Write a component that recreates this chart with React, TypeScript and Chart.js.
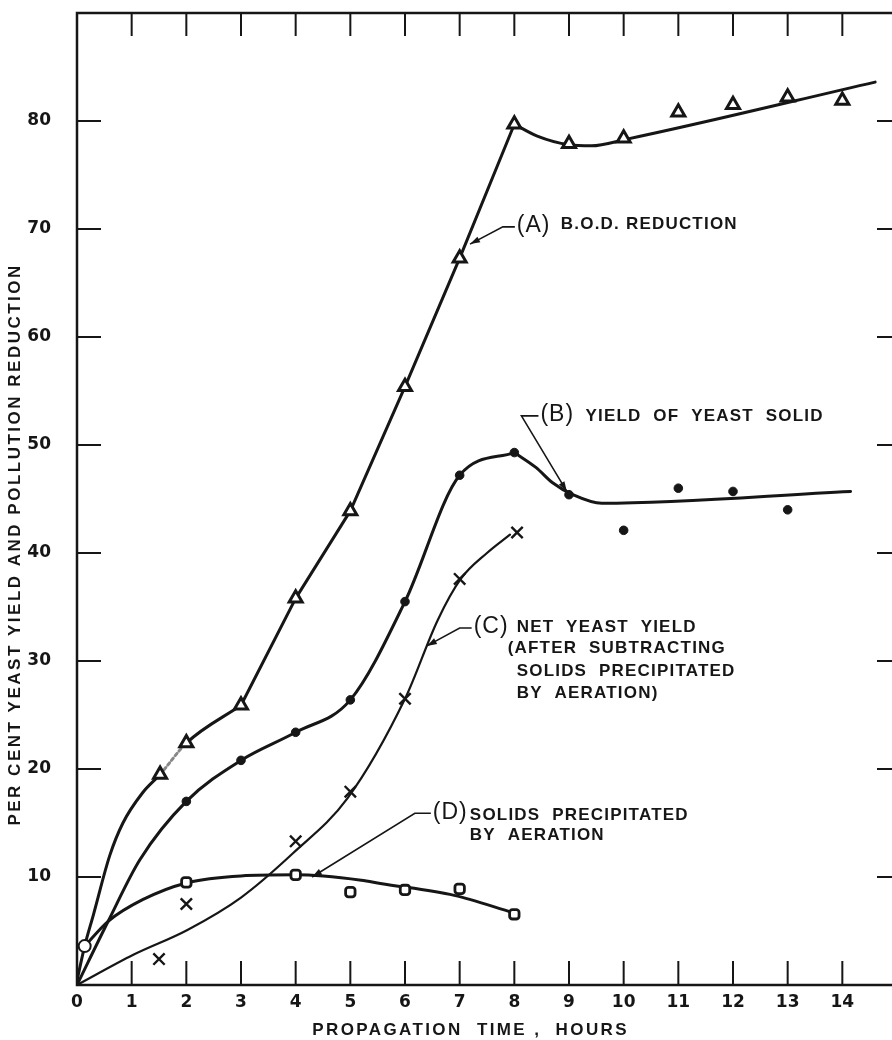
import React, { useEffect, useRef } from "react";
import { Chart, registerables } from "chart.js";

Chart.register(...registerables);

// ---------- axes ----------
const hourTicks = [0, 1, 2, 3, 4, 5, 6, 7, 8, 9, 10, 11, 12, 13, 14];
const percentTicks = [10, 20, 30, 40, 50, 60, 70, 80];
const xAxisTitle = "PROPAGATION  TIME ,  HOURS";
const yAxisTitle = "PER CENT YEAST YIELD AND POLLUTION REDUCTION";

// ---------- (A) B.O.D. reduction : triangles ----------
const bodHours = [1.52, 2, 3, 4, 5, 6, 7, 8, 9, 10, 11, 12, 13, 14];
const bodValues = [19.5, 22.4, 25.9, 35.8, 43.9, 55.4, 67.3, 79.7, 77.9, 78.4, 80.8, 81.5, 82.2, 81.9];
// faired curve of (A)
const bodCurveRiseHours = [0, 0.14, 0.3, 0.6, 0.84, 1.2, 1.52, 2, 3];
const bodCurveRiseValues = [0.4, 3.6, 6.5, 12.0, 15.0, 17.8, 19.5, 22.4, 25.9];
const bodCurveLinearHours = [3, 4, 5, 6, 7, 8];
const bodCurveLinearValues = [25.9, 35.8, 43.9, 55.4, 67.3, 79.7];
const bodCurveTailHours = [8, 8.42, 9.0, 9.41, 10.04, 14.6];
const bodCurveTailValues = [79.7, 78.6, 77.8, 77.7, 78.3, 83.6];

// ---------- (B) yield of yeast solid : dots ----------
const yieldHours = [2, 3, 4, 5, 6, 7, 8, 9, 10, 11, 12, 13];
const yieldValues = [17.0, 20.8, 23.4, 26.4, 35.5, 47.2, 49.3, 45.4, 42.1, 46.0, 45.7, 44.0];
const yieldCurveRiseHours = [0, 0.57, 1.15, 2, 3, 4, 5, 6, 7, 8];
const yieldCurveRiseValues = [0, 5.9, 11.6, 17.0, 20.8, 23.4, 26.4, 35.5, 47.2, 49.3];
const yieldCurveTailHours = [8, 8.4, 8.7, 9.07, 9.6, 14.15];
const yieldCurveTailValues = [49.3, 47.9, 46.5, 45.4, 44.6, 45.7];

// ---------- (C) net yeast yield : crosses ----------
const netHours = [1.5, 2, 4, 5, 6, 7, 8.05];
const netValues = [2.4, 7.5, 13.3, 17.9, 26.5, 37.6, 41.9];
const netCurveHours = [0, 1.03, 2.02, 3.0, 3.95, 4.95, 6.0, 6.6, 7.02, 7.5, 7.92];
const netCurveValues = [0, 2.8, 5.1, 8.1, 12.2, 17.3, 26.5, 33.8, 37.6, 40.0, 41.7];

// ---------- (D) solids precipitated by aeration : squares ----------
const solidsHours = [2, 4, 5, 6, 7, 8];
const solidsValues = [9.5, 10.2, 8.6, 8.8, 8.9, 6.55];
const solidsCurveHours = [0.14, 0.57, 1.2, 2.0, 3.0, 4.0, 5.2, 5.55, 6.9, 7.98];
const solidsCurveValues = [3.6, 5.9, 7.9, 9.45, 10.1, 10.2, 9.7, 9.4, 8.3, 6.7];

// initial reading (open circle)
const initialHours = [0.14];
const initialValues = [3.6];

// ---------- annotations (anchored in data units) ----------
const notes = [
  { tag: "(A)", corner: [7.79, 70.2], tip: [7.19, 68.6], tagDx: 14,
    lines: [{ text: "B.O.D. REDUCTION", dx: 58, dy: -3 }] },
  { tag: "(B)", corner: [8.13, 52.7], tip: [8.96, 45.7], tagDx: 19,
    lines: [{ text: "YIELD  OF  YEAST  SOLID", dx: 64, dy: 0 }] },
  { tag: "(C)", corner: [7.0, 33.06], tip: [6.4, 31.4], tagDx: 14,
    lines: [
      { text: "NET  YEAST  YIELD", dx: 57, dy: -1 },
      { text: "(AFTER  SUBTRACTING", dx: 48, dy: 20 },
      { text: "SOLIDS  PRECIPITATED", dx: 57, dy: 43 },
      { text: "BY  AERATION)", dx: 57, dy: 65 },
    ] },
  { tag: "(D)", corner: [6.18, 15.9], tip: [4.3, 10.0], tagDx: 18,
    lines: [
      { text: "SOLIDS  PRECIPITATED", dx: 55, dy: 2 },
      { text: "BY  AERATION", dx: 55, dy: 22 },
    ] },
];
const xTitleCenterHour = 7.2;
const yTitleCenterPercent = 40.8;

const INK = "#161616";

const pts = (xs: number[], ys: number[]) => xs.map((x, i) => ({ x, y: ys[i] }));

function drawText(ctx: CanvasRenderingContext2D, text: string, x: number, y: number, font: string, spacing: number, align: CanvasTextAlign = "left") {
  ctx.save();
  ctx.font = font;
  (ctx as any).letterSpacing = spacing + "px";
  ctx.textAlign = align;
  ctx.textBaseline = "middle";
  ctx.fillStyle = INK;
  ctx.fillText(text, x, y);
  ctx.restore();
}

const framePlugin = {
  id: "frameAndNotes",
  afterDatasetsDraw(chart: any) {
    const { ctx, chartArea: a, scales } = chart;
    const xs = scales.x;
    const ys = scales.y;
    ctx.save();
    ctx.strokeStyle = INK;
    ctx.lineWidth = 2.5;
    ctx.strokeRect(a.left, a.top, a.right - a.left, a.bottom - a.top);
    ctx.lineWidth = 2;
    ctx.beginPath();
    hourTicks.forEach((v) => {
      if (v === 0) return;
      const px = xs.getPixelForValue(v);
      ctx.moveTo(px, a.bottom);
      ctx.lineTo(px, a.bottom - 24);
      ctx.moveTo(px, a.top);
      ctx.lineTo(px, a.top + 23);
    });
    percentTicks.forEach((v) => {
      const py = ys.getPixelForValue(v);
      ctx.moveTo(a.left, py);
      ctx.lineTo(a.left + 24, py);
      ctx.moveTo(a.right, py);
      ctx.lineTo(a.right - 20, py);
    });
    ctx.stroke();

    // annotations
    notes.forEach((n) => {
      const cx = xs.getPixelForValue(n.corner[0]);
      const cy = ys.getPixelForValue(n.corner[1]);
      const tx = xs.getPixelForValue(n.tip[0]);
      const ty = ys.getPixelForValue(n.tip[1]);
      ctx.lineWidth = 1.6;
      ctx.beginPath();
      ctx.moveTo(cx + n.tagDx - 2, cy);
      ctx.lineTo(cx, cy);
      ctx.lineTo(tx, ty);
      ctx.stroke();
      const ang = Math.atan2(ty - cy, tx - cx);
      const L = 10, W = 3.2;
      ctx.fillStyle = INK;
      ctx.beginPath();
      ctx.moveTo(tx, ty);
      ctx.lineTo(tx - L * Math.cos(ang) + W * Math.sin(ang), ty - L * Math.sin(ang) - W * Math.cos(ang));
      ctx.lineTo(tx - L * Math.cos(ang) - W * Math.sin(ang), ty - L * Math.sin(ang) + W * Math.cos(ang));
      ctx.closePath();
      ctx.fill();
      drawText(ctx, n.tag, cx + n.tagDx, cy - 1, '23px "Liberation Sans"', 1);
      n.lines.forEach((l) => {
        drawText(ctx, l.text, cx + l.dx, cy + l.dy, 'bold 17px "Liberation Sans"', 1.2);
      });
    });

    // axis titles
    drawText(ctx, xAxisTitle, xs.getPixelForValue(xTitleCenterHour), a.bottom + 45, 'bold 17px "Liberation Sans"', 2.4, "center");
    ctx.save();
    ctx.translate(15, ys.getPixelForValue(yTitleCenterPercent));
    ctx.rotate(-Math.PI / 2);
    drawText(ctx, yAxisTitle, 0, 0, 'bold 17px "Liberation Sans"', 2.5, "center");
    ctx.restore();
    ctx.restore();
  },
};

const marker = (data: any[], style: string, radius: number, fill: string, bw: number) => ({
  data,
  showLine: false,
  pointStyle: style,
  pointRadius: radius,
  pointBackgroundColor: fill,
  pointBorderColor: INK,
  pointBorderWidth: bw,
});

const curve = (data: any[], width: number, smooth: boolean, extra: any = {}) => ({
  data,
  showLine: true,
  pointRadius: 0,
  borderColor: INK,
  borderWidth: width,
  fill: false,
  tension: 0,
  cubicInterpolationMode: smooth ? "monotone" : "default",
  borderCapStyle: "round",
  borderJoinStyle: "round",
  ...extra,
});

export default function App() {
  const ref = useRef<HTMLCanvasElement | null>(null);
  useEffect(() => {
    if (!ref.current) return;
    const tickFont = { family: "DejaVu Sans", size: 17, weight: "bold" as const };
    const chart = new Chart(ref.current, {
      type: "scatter",
      data: {
        datasets: [
          marker(pts(initialHours, initialValues), "circle", 6, "#fff", 2),
          marker(pts(bodHours, bodValues), "triangle", 7.5, "#fff", 3),
          marker(pts(yieldHours, yieldValues), "circle", 4.3, INK, 1),
          marker(pts(netHours, netValues), "crossRot", 8, INK, 2.4),
          marker(pts(solidsHours, solidsValues), "rectRounded", 5.5, "#fff", 2.8),
          curve(pts(bodCurveRiseHours, bodCurveRiseValues), 3, true, {
            segment: {
              borderDash: (c: any) => (c.p0DataIndex === 6 ? [3, 3] : undefined),
              borderColor: (c: any) => (c.p0DataIndex === 6 ? "#888" : undefined),
            },
          }),
          curve(pts(bodCurveLinearHours, bodCurveLinearValues), 3, false),
          curve(pts(bodCurveTailHours, bodCurveTailValues), 3, true),
          curve(pts(yieldCurveRiseHours, yieldCurveRiseValues), 3, true),
          curve(pts(yieldCurveTailHours, yieldCurveTailValues), 3, true),
          curve(pts(netCurveHours, netCurveValues), 2.2, true),
          curve(pts(solidsCurveHours, solidsCurveValues), 3, true),
        ] as any,
      },
      options: {
        responsive: false,
        animation: false,
        devicePixelRatio: 1,
        layout: { autoPadding: false, padding: { top: 13, right: 3, left: 0, bottom: 0 } },
        plugins: { legend: { display: false }, tooltip: { enabled: false } },
        scales: {
          x: {
            type: "linear",
            min: 0,
            max: 15,
            afterBuildTicks: (s: any) => {
              s.ticks = hourTicks.map((v) => ({ value: v }));
            },
            ticks: { font: tickFont, color: INK, padding: 7, maxRotation: 0, autoSkip: false, callback: (v: any) => String(v) },
            grid: { display: false, drawTicks: false },
            border: { display: false },
            afterFit: (s: any) => {
              s.height = 55;
              s.paddingLeft = 0;
              s.paddingRight = 0;
              s.paddingTop = 0;
              s.paddingBottom = 0;
            },
          },
          y: {
            type: "linear",
            min: 0,
            max: 90,
            afterBuildTicks: (s: any) => {
              s.ticks = percentTicks.map((v) => ({ value: v }));
            },
            ticks: { font: tickFont, color: INK, padding: 26, autoSkip: false, callback: (v: any) => String(v) },
            grid: { display: false, drawTicks: false },
            border: { display: false },
            afterFit: (s: any) => {
              s.width = 77;
              s.paddingLeft = 0;
              s.paddingRight = 0;
              s.paddingTop = 0;
              s.paddingBottom = 0;
            },
          },
        },
      } as any,
      plugins: [framePlugin],
    });
    return () => chart.destroy();
  }, []);

  return (
    <div style={{ position: "absolute", left: 0, top: 0, width: 892, height: 1040, overflow: "hidden", background: "#fff" }}>
      <canvas ref={ref} width={900} height={1040} style={{ display: "block", width: 900, height: 1040 }} />
    </div>
  );
}
